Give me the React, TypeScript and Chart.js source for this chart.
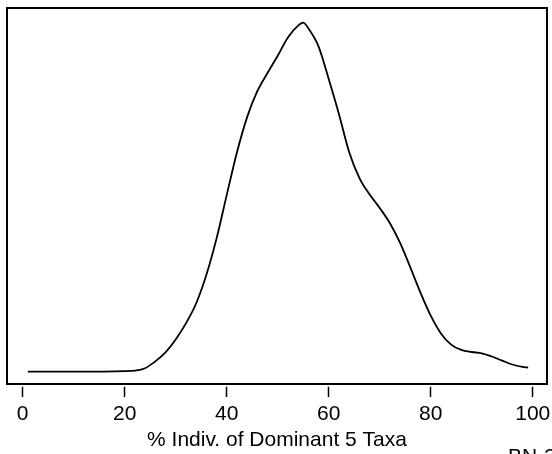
import React, { useEffect, useRef } from "react";
import { Chart, registerables } from "chart.js";

Chart.register(...registerables);

const xValues = [1, 10, 20, 22, 24, 26, 28, 30, 32, 34, 36, 38, 40, 42, 44, 46, 48, 50, 52, 54, 55, 56, 58, 60, 62, 64, 66, 68, 70, 72, 74, 76, 78, 80, 82, 84, 86, 88, 90, 92, 94, 96, 98, 99.1];
const densityValues = [0, 0, 0.00005, 0.0001, 0.00035, 0.00103, 0.00194, 0.00322, 0.00483, 0.00682, 0.00967, 0.01331, 0.01766, 0.02192, 0.02546, 0.02805, 0.02987, 0.0316, 0.03343, 0.03461, 0.0349, 0.03434, 0.03254, 0.02927, 0.02577, 0.02197, 0.01939, 0.01774, 0.01637, 0.01485, 0.01288, 0.01043, 0.00789, 0.0056, 0.00383, 0.00271, 0.00218, 0.00197, 0.00184, 0.00152, 0.00111, 0.00072, 0.00049, 0.00042];
const tickValues = [0, 20, 40, 60, 80, 100];
const xTitle = "% Indiv. of Dominant 5 Taxa";
const cornerLabel = "BN-3";

const FONT = '"Liberation Sans", Arial, sans-serif';
const FONT_SIZE = 21;

export default function App() {
  const ref = useRef<HTMLCanvasElement | null>(null);
  useEffect(() => {
    if (!ref.current) return;
    const boxPlugin = {
      id: "boxPlugin",
      afterDraw(chart: any) {
        const { ctx, chartArea } = chart;
        ctx.save();
        ctx.strokeStyle = "#000";
        ctx.lineWidth = 2;
        ctx.strokeRect(chartArea.left, chartArea.top, chartArea.right - chartArea.left, chartArea.bottom - chartArea.top);
        ctx.fillStyle = "#000";
        ctx.font = FONT_SIZE + "px " + FONT;
        ctx.textBaseline = "alphabetic";
        ctx.textAlign = "left";
        ctx.fillText(cornerLabel, 508, 463);
        ctx.restore();
      },
    };
    const chart = new Chart(ref.current, {
      type: "line",
      data: {
        datasets: [
          {
            data: xValues.map((x, i) => ({ x, y: densityValues[i] })),
            borderColor: "#000",
            borderWidth: 1.8,
            pointRadius: 0,
            fill: false,
            cubicInterpolationMode: "monotone",
          },
        ],
      },
      options: {
        animation: false,
        responsive: false,
        devicePixelRatio: 1,
        layout: { padding: { left: 7, right: 5, top: 8, bottom: 0 } },
        plugins: { legend: { display: false }, tooltip: { enabled: false } },
        scales: {
          x: {
            type: "linear",
            min: -3.08,
            max: 102.8,
            afterBuildTicks: (scale: any) => {
              scale.ticks = tickValues.map((v) => ({ value: v }));
            },
            afterFit: (scale: any) => {
              scale.height = 70;
              scale.paddingLeft = 0;
              scale.paddingRight = 0;
            },
            border: { display: false },
            grid: {
              display: true,
              drawOnChartArea: false,
              drawTicks: true,
              tickLength: 13,
              tickColor: "#000",
              tickWidth: 1.5,
              tickBorderDash: [10.3, 2.7],
              tickBorderDashOffset: 10.3,
            },
            ticks: {
              color: "#000",
              font: { family: FONT, size: FONT_SIZE },
              padding: 5,
              maxRotation: 0,
              autoSkip: false,
            },
            title: {
              display: true,
              text: xTitle,
              color: "#000",
              font: { family: FONT, size: FONT_SIZE },
              padding: { top: 0, bottom: 0.8 },
            },
          },
          y: {
            display: false,
            min: -0.00123,
            max: 0.03637,
          },
        },
      },
      plugins: [boxPlugin],
    } as any);
    return () => chart.destroy();
  }, []);
  return (
    <div style={{ position: "absolute", left: 0, top: 0, width: 552, height: 454, overflow: "hidden" }}>
      <canvas ref={ref} width={552} height={454} style={{ display: "block" }} />
    </div>
  );
}
